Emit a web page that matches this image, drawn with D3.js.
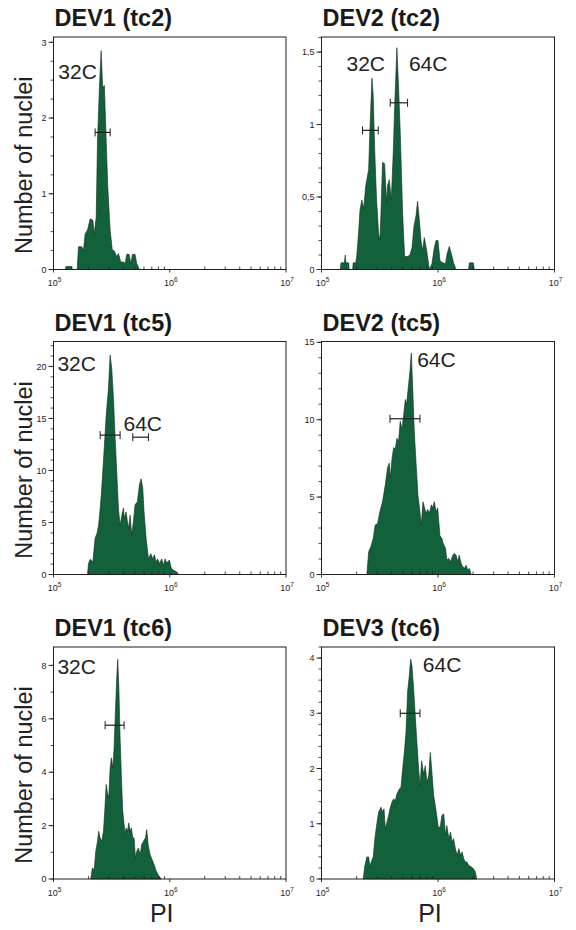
<!DOCTYPE html>
<html>
<head>
<meta charset="utf-8">
<script src="https://cdn.jsdelivr.net/npm/d3@7/dist/d3.min.js"></script>
<style>
  body { margin: 0; background: #fff; }
  svg { display: block; font-family: "Liberation Sans", Arial, sans-serif; }
</style>
</head>
<body>
<svg id="chart" width="576" height="930"></svg>
<script>
// ---- data: PI intensity (x) and number of nuclei (y), outline of each histogram ----
var dev1tc2PI = [1.26e5,1.28e5,1.44e5,1.45e5,1.60e5,1.64e5,1.75e5,1.81e5,1.87e5,1.96e5,2.07e5,2.18e5,2.24e5,2.33e5,2.39e5,2.49e5,2.57e5,2.65e5,2.74e5,2.84e5,2.93e5,3.07e5,3.21e5,3.32e5,3.50e5,3.62e5,3.79e5,4.00e5,4.13e5,4.27e5,4.47e5,4.62e5,4.78e5,5.03e5,5.20e5,5.48e5];
var dev1tc2N  = [0,0.04,0.04,0,0,0.30,0.30,0.25,0.47,0.52,0.67,0.65,0.47,0.69,1.70,2.45,2.89,2.40,2.43,1.70,1.09,0.52,0.25,0.25,0.17,0.21,0.10,0.10,0.08,0.20,0.20,0.08,0.20,0.20,0.08,0];

var dev2tc2PI = [1.45e5,1.47e5,1.57e5,1.60e5,1.62e5,1.71e5,1.73e5,1.85e5,1.87e5,1.97e5,2.01e5,2.08e5,2.14e5,2.22e5,2.30e5,2.40e5,2.54e5,2.60e5,2.71e5,2.78e5,2.86e5,2.97e5,3.09e5,3.17e5,3.24e5,3.34e5,3.48e5,3.62e5,3.69e5,3.82e5,3.97e5,4.13e5,4.27e5,4.44e5,4.59e5,4.74e5,4.97e5,5.17e5,5.48e5,5.74e5,5.98e5,6.22e5,6.47e5,6.68e5,6.92e5,7.14e5,7.38e5,7.63e5,8.00e5,8.43e5,8.87e5,9.29e5,9.62e5,1.00e6,1.04e6,1.10e6,1.16e6,1.19e6,1.25e6,1.30e6,1.36e6,1.43e6,1.83e6,1.86e6,2.01e6,2.05e6];
var dev2tc2N  = [0,0.046,0.046,0.10,0.046,0.046,0,0,0.046,0.046,0.10,0.25,0.41,0.48,0.42,0.58,0.69,0.95,1.32,1.20,0.83,0.48,0.25,0.20,0.39,0.74,0.73,0.46,0.58,0.62,0.48,0.81,1.18,1.53,1.25,0.95,0.39,0.09,0.09,0.10,0.15,0.30,0.37,0.47,0.34,0.20,0.13,0.22,0.13,0,0.04,0.15,0.20,0.20,0.06,0.046,0.04,0.10,0.16,0.11,0.046,0,0,0.046,0.046,0];

var dev1tc5PI = [1.96e5,2.00e5,2.07e5,2.18e5,2.28e5,2.36e5,2.44e5,2.52e5,2.60e5,2.73e5,2.84e5,2.97e5,3.07e5,3.17e5,3.28e5,3.39e5,3.50e5,3.62e5,3.74e5,3.87e5,4.00e5,4.07e5,4.21e5,4.42e5,4.56e5,4.71e5,4.87e5,5.03e5,5.27e5,5.48e5,5.67e5,5.86e5,6.01e5,6.26e5,6.56e5,6.87e5,7.14e5,7.38e5,7.63e5,7.88e5,8.15e5,8.53e5,8.82e5,9.12e5,9.42e5,9.93e5,1.03e6,1.08e6,1.15e6,1.19e6];
var dev1tc5N  = [0,1.06,1.47,1.2,3.5,3.9,4.7,6.3,8.3,12.1,15.3,17.9,21.1,19.8,16.9,13.1,9.9,6.3,4.7,5.7,6.4,5.4,6.0,4.4,5.7,3.8,5.1,6.7,7.0,8.6,9.2,8.3,6.0,3.5,1.5,2.0,1.5,1.9,1.2,1.5,1.06,1.5,0.9,1.5,1.1,1.4,0.6,0.4,0.25,0];

var dev2tc5PI = [2.45e5,2.54e5,2.65e5,2.78e5,2.89e5,3.03e5,3.17e5,3.34e5,3.53e5,3.69e5,3.82e5,3.89e5,4.02e5,4.16e5,4.30e5,4.44e5,4.59e5,4.74e5,4.91e5,5.07e5,5.24e5,5.38e5,5.56e5,5.74e5,5.90e5,6.05e5,6.26e5,6.47e5,6.73e5,7.00e5,7.19e5,7.43e5,7.67e5,7.88e5,8.15e5,8.43e5,8.77e5,9.00e5,9.29e5,9.62e5,9.93e5,1.04e6,1.08e6,1.11e6,1.16e6,1.19e6,1.24e6,1.28e6,1.34e6,1.38e6,1.43e6,1.48e6,1.52e6,1.58e6,1.63e6,1.69e6,1.74e6,1.80e6,1.86e6,1.92e6];
var dev2tc5N  = [0,1.47,1.79,2.33,3.2,3.3,4.06,4.7,5.8,6.9,7.2,6.2,7.4,8.2,8.1,8.8,8.6,9.9,9.4,10.3,11.3,11.0,12.1,13.1,14.3,12.3,9.2,7.3,5.1,4.06,3.2,4.7,4.3,3.95,4.2,3.95,4.5,4.3,4.7,4.06,4.3,2.5,2.33,2.0,1.7,0.93,1.04,0.82,1.25,1.36,1.25,0.82,1.25,0.71,0.5,0.4,0.6,0.28,0.4,0];

var dev1tc6PI = [2.09e5,2.16e5,2.24e5,2.31e5,2.39e5,2.45e5,2.52e5,2.60e5,2.69e5,2.76e5,2.84e5,2.91e5,2.99e5,3.07e5,3.15e5,3.24e5,3.32e5,3.41e5,3.50e5,3.57e5,3.65e5,3.74e5,3.84e5,3.94e5,4.05e5,4.13e5,4.21e5,4.33e5,4.44e5,4.56e5,4.68e5,4.81e5,4.93e5,5.07e5,5.20e5,5.38e5,5.56e5,5.74e5,5.94e5,6.18e5,6.34e5,6.52e5,6.78e5,7.05e5,7.33e5,7.63e5,7.94e5,8.26e5,8.47e5];
var dev1tc6N  = [0,0.41,0.35,1.04,1.41,1.79,1.54,1.41,1.79,2.54,3.54,3.23,3.04,4.16,4.54,4.16,4.91,6.29,7.54,8.23,7.16,5.29,3.79,2.54,2.04,1.66,1.91,1.79,2.1,1.79,1.91,1.54,1.54,0.79,1.04,1.16,0.91,1.29,1.41,1.54,1.85,1.29,0.91,0.73,0.54,0.31,0.16,0.06,0];

var dev3tc6PI = [2.28e5,2.36e5,2.45e5,2.54e5,2.60e5,2.67e5,2.78e5,2.87e5,2.97e5,3.09e5,3.24e5,3.34e5,3.44e5,3.53e5,3.65e5,3.77e5,3.87e5,4.02e5,4.16e5,4.30e5,4.44e5,4.66e5,4.81e5,4.97e5,5.14e5,5.31e5,5.48e5,5.67e5,5.82e5,5.98e5,6.18e5,6.38e5,6.59e5,6.82e5,7.00e5,7.24e5,7.53e5,7.78e5,8.04e5,8.32e5,8.59e5,8.87e5,9.18e5,9.48e5,9.75e5,1.01e6,1.05e6,1.08e6,1.12e6,1.16e6,1.19e6,1.24e6,1.28e6,1.32e6,1.36e6,1.41e6,1.46e6,1.51e6,1.56e6,1.61e6,1.66e6,1.72e6,1.77e6,1.83e6,1.92e6,2.01e6,2.09e6,2.15e6];
var dev3tc6N  = [0,0.25,0.40,0.40,0.22,0.31,0.40,0.73,0.97,1.21,1.30,1.21,1.27,0.91,1.03,1.15,1.27,1.39,1.45,1.42,1.54,1.63,1.66,1.99,2.29,2.65,3.38,3.68,3.98,3.86,3.44,2.95,2.47,1.99,1.69,2.14,1.90,2.05,1.75,1.87,2.29,1.93,1.51,1.33,1.15,0.91,0.97,1.15,1.18,0.79,0.97,0.73,0.85,0.67,0.73,0.55,0.43,0.55,0.43,0.49,0.37,0.31,0.31,0.25,0.22,0.19,0.13,0];

// gate bars (lo, hi, level) and peak labels
var dev1tc2Gates = [[2.28e5, 3.07e5, 1.81]];
var dev2tc2Gates = [[2.25e5, 3.07e5, 0.96], [3.89e5, 5.48e5, 1.15]];
var dev1tc5Gates = [[2.52e5, 3.74e5, 13.4], [4.81e5, 6.56e5, 13.2]];
var dev2tc5Gates = [[3.87e5, 7.00e5, 10.06]];
var dev1tc6Gates = [[2.78e5, 4.05e5, 5.76]];
var dev3tc6Gates = [[4.74e5, 7.00e5, 3.0]];

var titles = ["DEV1 (tc2)", "DEV2 (tc2)", "DEV1 (tc5)", "DEV2 (tc5)", "DEV1 (tc6)", "DEV3 (tc6)"];
var xTickLabels = ["5", "6", "7"]; // exponents of 10

var panels = [
  { title: titles[0], pi: dev1tc2PI, n: dev1tc2N, gates: dev1tc2Gates, ymax: 3.07, ticks: [0,1,2,3], minor: 0.25,
    labels: [["32C", 1.10e5, 2.51]] },
  { title: titles[1], pi: dev2tc2PI, n: dev2tc2N, gates: dev2tc2Gates, ymax: 1.604, ticks: [0,0.5,1,1.5], minor: 0.1,
    labels: [["32C", 1.64e5, 1.37], ["64C", 5.63e5, 1.37]] },
  { title: titles[2], pi: dev1tc5PI, n: dev1tc5N, gates: dev1tc5Gates, ymax: 22.4, ticks: [0,5,10,15,20], minor: 1,
    labels: [["32C", 1.08e5, 19.6], ["64C", 4.0e5, 13.8]] },
  { title: titles[3], pi: dev2tc5PI, n: dev2tc5N, gates: dev2tc5Gates, ymax: 15.05, ticks: [0,5,10,15], minor: 1,
    labels: [["64C", 6.62e5, 13.4]] },
  { title: titles[4], pi: dev1tc6PI, n: dev1tc6N, gates: dev1tc6Gates, ymax: 8.69, ticks: [0,2,4,6,8], minor: 1,
    labels: [["32C", 1.08e5, 7.66]] },
  { title: titles[5], pi: dev3tc6PI, n: dev3tc6N, gates: dev3tc6Gates, ymax: 4.2, ticks: [0,1,2,3,4], minor: 0.2,
    labels: [["64C", 7.41e5, 3.74]] }
];

var svg = d3.select("#chart");

var cols = [{ x0: 53.5, x1: 286 }, { x0: 321.5, x1: 554.5 }];
var rows = [{ top: 37, bottom: 269.5 }, { top: 341.5, bottom: 574.5 }, { top: 647, bottom: 879 }];

var fillColor = "#13613a";
var ink = "#1e1e1e";
var fmt = function(v) { return String(v).replace(".", ","); };

panels.forEach(function(p, i) {
  var c = cols[i % 2], r = rows[Math.floor(i / 2)];

  var x = d3.scaleLog().domain([1e5, 1e7]).range([c.x0, c.x1]);
  var y = d3.scaleLinear().domain([0, p.ymax]).range([r.bottom, r.top]);

  var g = svg.append("g");

  // histogram
  var pts = p.pi.map(function(v, k) { return [v, p.n[k]]; });
  var area = d3.area()
      .x(function(d) { return x(d[0]); })
      .y0(y(0))
      .y1(function(d) { return y(d[1]); });
  g.append("path")
      .datum(pts)
      .attr("d", area)
      .attr("fill", fillColor)
      .attr("stroke", "#0e2a1b")
      .attr("stroke-width", 0.6)
      .attr("stroke-linejoin", "round");

  // frame
  g.append("rect")
      .attr("x", c.x0).attr("y", r.top)
      .attr("width", c.x1 - c.x0).attr("height", r.bottom - r.top)
      .attr("fill", "none").attr("stroke", ink).attr("stroke-width", 1);

  // y ticks
  var minorTicks = d3.range(0, p.ymax + 1e-9, p.minor);
  g.selectAll(".ymin").data(minorTicks).enter().append("line")
      .attr("x1", c.x0 - 3).attr("x2", c.x0)
      .attr("y1", function(d) { return y(d); }).attr("y2", function(d) { return y(d); })
      .attr("stroke", ink).attr("stroke-width", 0.8);
  g.selectAll(".ymaj").data(p.ticks).enter().append("line")
      .attr("x1", c.x0 - 5).attr("x2", c.x0)
      .attr("y1", function(d) { return y(d); }).attr("y2", function(d) { return y(d); })
      .attr("stroke", ink).attr("stroke-width", 0.9);
  g.selectAll(".ylab").data(p.ticks).enter().append("text")
      .attr("x", c.x0 - 7)
      .attr("y", function(d) { return y(d) + 3.2; })
      .attr("text-anchor", "end")
      .attr("font-size", 9)
      .attr("fill", ink)
      .text(fmt);

  // x ticks (log)
  var xMinor = [];
  [1e5, 1e6].forEach(function(b) { for (var m = 2; m <= 9; m++) xMinor.push(b * m); });
  g.selectAll(".xmin").data(xMinor).enter().append("line")
      .attr("x1", function(d) { return x(d); }).attr("x2", function(d) { return x(d); })
      .attr("y1", r.bottom).attr("y2", r.bottom - 3)
      .attr("stroke", ink).attr("stroke-width", 0.8);
  var xMajor = [1e5, 1e6, 1e7];
  g.selectAll(".xmaj").data(xMajor).enter().append("line")
      .attr("x1", function(d) { return x(d); }).attr("x2", function(d) { return x(d); })
      .attr("y1", r.bottom).attr("y2", r.bottom + 3)
      .attr("stroke", ink).attr("stroke-width", 0.9);
  var xl = g.selectAll(".xlab").data(xMajor).enter().append("text")
      .attr("x", function(d) { return x(d) + 1; })
      .attr("y", r.bottom + 16.5)
      .attr("text-anchor", "middle")
      .attr("font-size", 9)
      .attr("fill", ink);
  xl.append("tspan").text("10");
  xl.append("tspan").attr("dy", -4).attr("font-size", 6.5)
      .text(function(d, k) { return xTickLabels[k]; });

  // gate bars
  p.gates.forEach(function(gt) {
    var yy = y(gt[2]), a = x(gt[0]), b = x(gt[1]);
    g.append("line").attr("x1", a).attr("x2", b).attr("y1", yy).attr("y2", yy)
        .attr("stroke", ink).attr("stroke-width", 1.2);
    [a, b].forEach(function(xx) {
      g.append("line").attr("x1", xx).attr("x2", xx).attr("y1", yy - 4).attr("y2", yy + 4)
          .attr("stroke", ink).attr("stroke-width", 1);
    });
  });

  // peak labels
  p.labels.forEach(function(l) {
    g.append("text")
        .attr("x", x(l[1])).attr("y", y(l[2]))
        .attr("font-size", 21)
        .attr("fill", "#222")
        .text(l[0]);
  });

  // title
  g.append("text")
      .attr("x", c.x0 + 1).attr("y", r.top - 11)
      .attr("font-size", 23.5)
      .attr("font-weight", "bold")
      .attr("fill", "#1a1a1a")
      .text(p.title);

  // axis titles
  if (i % 2 === 0) {
    var cy = (r.top + r.bottom) / 2 + 12;
    g.append("text")
        .attr("transform", "translate(32," + cy + ") rotate(-90)")
        .attr("text-anchor", "middle")
        .attr("font-size", 23.5)
        .attr("fill", "#222")
        .text("Number of nuclei");
  }
  if (i >= 4) {
    g.append("text")
        .attr("x", (c.x0 + c.x1) / 2 - 8).attr("y", 922)
        .attr("text-anchor", "middle")
        .attr("font-size", 25)
        .attr("fill", "#222")
        .text("PI");
  }
});
</script>
</body>
</html>
